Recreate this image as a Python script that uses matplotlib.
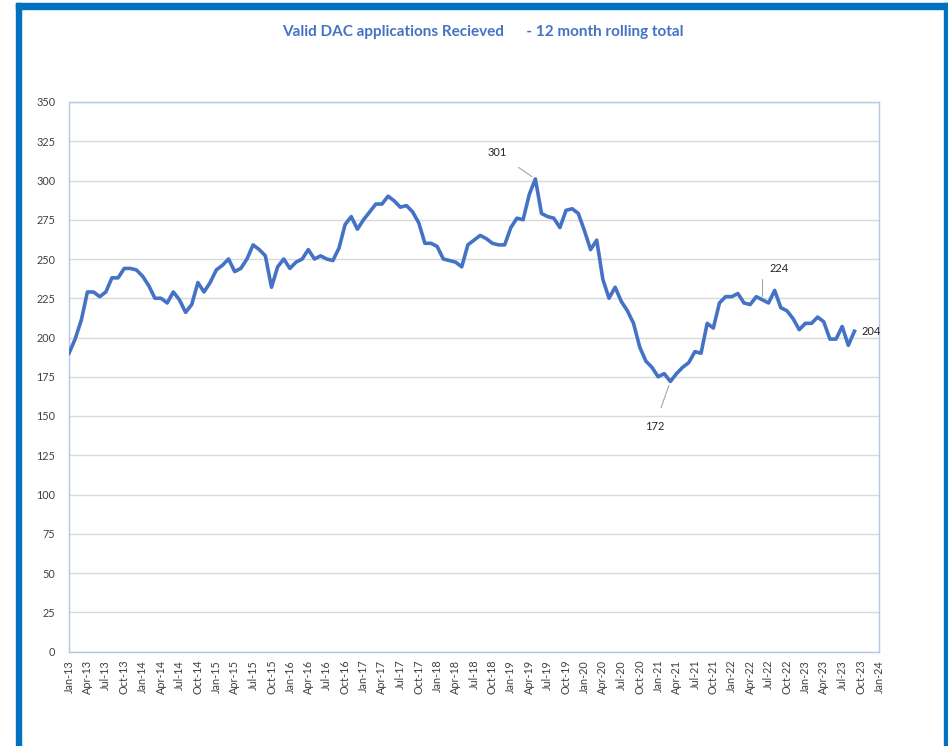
import matplotlib
matplotlib.use("Agg")
import matplotlib.pyplot as plt
from matplotlib.patches import Rectangle
import numpy as np

# ---- data ----
values = [190, 199, 211, 229, 229, 226, 229, 238, 238, 244, 244, 243,
          239, 233, 225, 225, 222, 229, 224, 216, 221, 235, 229, 235,
          243, 246, 250, 242, 244, 250, 259, 256, 252, 232, 245, 250,
          244, 248, 250, 256, 250, 252, 250, 249, 257, 272, 277, 269,
          275, 280, 285, 285, 290, 287, 283, 284, 280, 273, 260, 260,
          258, 250, 249, 248, 245, 259, 262, 265, 263, 260, 259, 259,
          270, 276, 275, 291, 301, 279, 277, 276, 270, 281, 282, 279,
          268, 256, 262, 237, 225, 232, 223, 217, 209, 194, 185, 181,
          175, 177, 172, 177, 181, 184, 191, 190, 209, 206, 222, 226,
          226, 228, 222, 221, 226, 224, 222, 230, 219, 217, 212, 205,
          209, 209, 213, 210, 199, 199, 207, 195, 204]
tick_months = ["Jan", "Apr", "Jul", "Oct"]
tick_years = ["13", "14", "15", "16", "17", "18", "19", "20", "21", "22", "23"]
x_tick_labels = [f"{m}-{y}" for y in tick_years for m in tick_months] + ["Jan-24"]
y_ticks = [0, 25, 50, 75, 100, 125, 150, 175, 200, 225, 250, 275, 300, 325, 350]
labelled_points = {76: "301", 98: "172", 113: "224", 128: "204"}
title = "Valid DAC applications Recieved      - 12 month rolling total"

plt.rcParams['font.family'] = ['Lato', 'DejaVu Sans']

fig = plt.figure(figsize=(9.48, 7.46), dpi=100)
W, H = 948, 746

# blue frame
frame_col = "#0070C0"
fig.patches.append(Rectangle((16 / W, 0), 5 / W, 1 - 3 / H, transform=fig.transFigure,
                             color=frame_col, zorder=0))
fig.patches.append(Rectangle((16 / W, 1 - 9 / H), (948 - 16) / W, 6 / H,
                             transform=fig.transFigure, color=frame_col, zorder=0))
fig.patches.append(Rectangle((944 / W, 0), 4 / W, 1 - 3 / H, transform=fig.transFigure,
                             color=frame_col, zorder=0))

ax = fig.add_axes([69 / W, 1 - 651.5 / H, (879 - 69) / W, (651.5 - 102) / H])
x = np.arange(len(values))
ax.plot(x, values, color="#4472C4", lw=2.6, solid_joinstyle="round", zorder=3)

ax.set_xlim(0, 132)
ax.set_ylim(0, 350)
ax.set_yticks(y_ticks)
ax.set_yticklabels([str(v) for v in y_ticks], fontsize=7.8, color="#404040")
ax.set_xticks(np.arange(0, 133, 3))
ax.set_xticklabels(x_tick_labels, rotation=90, fontsize=7.8, color="#404040")
ax.tick_params(length=0, pad=6)
ax.tick_params(axis="y", pad=10)
ax.grid(axis="y", color="#D9D9D9", lw=1)
ax.set_axisbelow(True)
for s in ax.spines.values():
    s.set_color("#B4C7E7")
    s.set_linewidth(1)

offsets = {76: (-38, 26), 98: (-16, -45), 113: (17, 31), 128: (17, 0)}
for i, lab in labelled_points.items():
    dx, dy = offsets[i]
    if i == 128:
        ax.annotate(lab, (i, values[i]), xytext=(dx, dy), textcoords="offset pixels",
                    ha="center", va="center", fontsize=8, color="#262626")
    elif i == 113:
        ax.annotate(lab, (i, values[i]), xytext=(dx, dy), textcoords="offset pixels",
                    ha="center", va="center", fontsize=8, color="#262626",
                    arrowprops=dict(arrowstyle="-", color="#A6A6A6", lw=0.8,
                                    connectionstyle="angle,angleA=0,angleB=90,rad=0",
                                    shrinkA=8, shrinkB=3))
    else:
        ax.annotate(lab, (i, values[i]), xytext=(dx, dy), textcoords="offset pixels",
                    ha="center", va="center", fontsize=8, color="#262626",
                    arrowprops=dict(arrowstyle="-", color="#A6A6A6", lw=0.8,
                                    shrinkA=8, shrinkB=3))

fig.text(483 / W, 1 - 32 / H, title, ha="center", va="center", fontsize=11,
         fontweight="bold", color="#4472C4")

fig.savefig("out.png", dpi=100)
